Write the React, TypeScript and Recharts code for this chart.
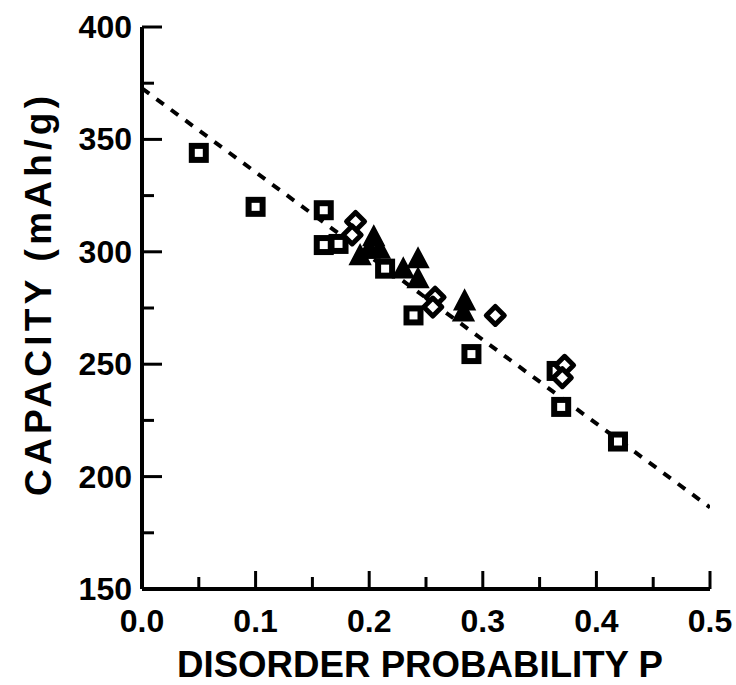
import { ScatterChart, Scatter, XAxis, YAxis, Label } from 'recharts';

// squares (open, heavy outline)
const squareP = [0.05, 0.1, 0.16, 0.16, 0.173, 0.214, 0.239, 0.29, 0.365, 0.369, 0.419];
const squareC = [344, 320, 318.5, 303, 303.5, 292.5, 271.7, 254.5, 247, 231, 215.6];
// diamonds (open)
const diamondP = [0.188, 0.185, 0.258, 0.256, 0.311, 0.372, 0.37];
const diamondC = [313.5, 307.5, 279.8, 275.4, 271.7, 249.5, 244];
// triangles (filled)
const triangleP = [0.204, 0.209, 0.192, 0.2, 0.23, 0.243, 0.243, 0.284, 0.283];
const triangleC = [306, 300.5, 297.6, 300.5, 291.7, 296.2, 287.3, 277.5, 272.5];
// dashed linear fit
const fitP = [0, 0.5];
const fitC = [372.7, 186.3];

const xTicks = [0, 0.05, 0.1, 0.15, 0.2, 0.25, 0.3, 0.35, 0.4, 0.45, 0.5];
const yTicks = [150, 175, 200, 225, 250, 275, 300, 325, 350, 375, 400];

const zip = (ps: number[], cs: number[]) => ps.map((p, i) => ({ p, c: cs[i] }));

const squares = zip(squareP, squareC);
const diamonds = zip(diamondP, diamondC);
const triangles = zip(triangleP, triangleC);
const fit = zip(fitP, fitC);

const FONT = '"Liberation Sans", Arial, sans-serif';
const TICK_FS = 32;

const isMajorX = (v: number) => Math.abs(v * 10 - Math.round(v * 10)) < 1e-6;
const isMajorY = (v: number) => v % 50 === 0;

const BottomTick = (props: any) => {
  const { x, y, payload } = props;
  const major = isMajorX(payload.value);
  return (
    <g>
      <line x1={x} x2={x} y1={y} y2={y - (major ? 18 : 12)} stroke="#000" strokeWidth={3} />
      {major && (
        <text x={x} y={y + 43} textAnchor="middle" fontFamily={FONT} fontWeight="bold" fontSize={TICK_FS} fill="#000">
          {payload.value.toFixed(1)}
        </text>
      )}
    </g>
  );
};

const TopTick = (props: any) => {
  const { x, y, payload } = props;
  const major = isMajorX(payload.value);
  return <line x1={x} x2={x} y1={y} y2={y + (major ? 18 : 12)} stroke="#000" strokeWidth={3} />;
};

const LeftTick = (props: any) => {
  const { x, y, payload } = props;
  const major = isMajorY(payload.value);
  return (
    <g>
      <line x1={x} x2={x + (major ? 20 : 12)} y1={y} y2={y} stroke="#000" strokeWidth={3} />
      {major && (
        <text x={x - 10} y={y + 11} textAnchor="end" fontFamily={FONT} fontWeight="bold" fontSize={TICK_FS} fill="#000">
          {payload.value}
        </text>
      )}
    </g>
  );
};

const RightTick = (props: any) => {
  const { x, y, payload } = props;
  const major = isMajorY(payload.value);
  return <line x1={x} x2={x - (major ? 20 : 12)} y1={y} y2={y} stroke="#000" strokeWidth={3} />;
};

const SquareMark = ({ cx, cy }: any) => (
  <rect x={cx - 7} y={cy - 7} width={14} height={14} fill="#fff" stroke="#000" strokeWidth={6} />
);

const DiamondMark = ({ cx, cy }: any) => (
  <polygon
    points={`${cx},${cy - 9} ${cx + 9},${cy} ${cx},${cy + 9} ${cx - 9},${cy}`}
    fill="#fff"
    stroke="#000"
    strokeWidth={5}
    strokeLinejoin="round"
  />
);

const TriangleMark = ({ cx, cy }: any) => (
  <polygon points={`${cx},${cy - 12} ${cx + 10},${cy + 7} ${cx - 10},${cy + 7}`} fill="#000" stroke="#000" strokeWidth={2} />
);

const axisLine = { stroke: '#000', strokeWidth: 4 };

export default function App() {
  return (
    <div style={{ position: 'absolute', left: 0, top: 0, width: 736, height: 685, background: '#fff' }}>
      <ScatterChart width={736} height={685} margin={{ top: 27, right: 26, left: 0, bottom: 0 }}>
        <XAxis
          xAxisId="b"
          type="number"
          dataKey="p"
          domain={[0, 0.5]}
          ticks={xTicks}
          interval={0}
          orientation="bottom"
          height={96}
          axisLine={axisLine}
          tickLine={false}
          tickSize={0}
          tickMargin={0}
          tick={<BottomTick />}
          allowDataOverflow
        >
          <Label
            content={({ viewBox }: any) => (
              <text
                x={viewBox.x + viewBox.width / 2 - 6}
                y={viewBox.y + 88}
                textAnchor="middle"
                fontFamily={FONT}
                fontWeight="bold"
                fontSize={36}
                textLength={486}
                lengthAdjust="spacingAndGlyphs"
                fill="#000"
              >
                DISORDER PROBABILITY P
              </text>
            )}
          />
        </XAxis>
        <XAxis
          xAxisId="t"
          type="number"
          dataKey="p"
          domain={[0, 0.5]}
          ticks={xTicks}
          interval={0}
          orientation="top"
          height={0}
          axisLine={axisLine}
          tickLine={false}
          tickSize={0}
          tickMargin={0}
          tick={<TopTick />}
          allowDataOverflow
        />
        <YAxis
          yAxisId="l"
          type="number"
          dataKey="c"
          domain={[150, 400]}
          ticks={yTicks}
          interval={0}
          orientation="left"
          width={142}
          axisLine={axisLine}
          tickLine={false}
          tickSize={0}
          tickMargin={0}
          tick={<LeftTick />}
          allowDataOverflow
        >
          <Label
            content={({ viewBox }: any) => {
              const cx = viewBox.x + 38;
              const cy = 296;
              return (
                <text
                  x={cx}
                  y={cy}
                  transform={`rotate(-90 ${cx} ${cy})`}
                  textAnchor="middle"
                  dominantBaseline="central"
                  fontFamily={FONT}
                  fontWeight="bold"
                  fontSize={37}
                  textLength={400}
                  lengthAdjust="spacing"
                  fill="#000"
                >
                  CAPACITY (mAh/g)
                </text>
              );
            }}
          />
        </YAxis>
        <YAxis
          yAxisId="r"
          type="number"
          dataKey="c"
          domain={[150, 400]}
          ticks={yTicks}
          interval={0}
          orientation="right"
          width={0}
          axisLine={axisLine}
          tickLine={false}
          tickSize={0}
          tickMargin={0}
          tick={<RightTick />}
          allowDataOverflow
        />
        <Scatter
          xAxisId="b"
          yAxisId="l"
          data={fit}
          line={{ stroke: '#000', strokeWidth: 4, strokeDasharray: '9 9' }}
          lineType="joint"
          shape={() => null}
          isAnimationActive={false}
        />
        <Scatter xAxisId="b" yAxisId="l" data={squares} shape={SquareMark} isAnimationActive={false} />
        <Scatter xAxisId="b" yAxisId="l" data={triangles} shape={TriangleMark} isAnimationActive={false} />
        <Scatter xAxisId="b" yAxisId="l" data={diamonds} shape={DiamondMark} isAnimationActive={false} />
      </ScatterChart>
    </div>
  );
}
